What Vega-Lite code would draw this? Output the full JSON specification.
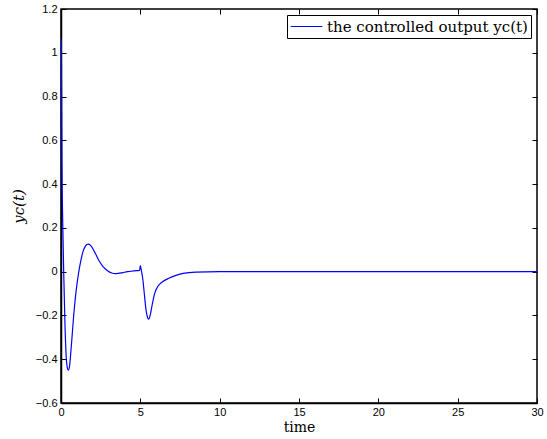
{
  "$schema": "https://vega.github.io/schema/vega-lite/v6.json",
  "autosize": {"type": "none"},
  "padding": {"left": 61, "top": 9, "right": 10, "bottom": 36},
  "width": 476,
  "height": 394,
  "background": "white",
  "config": {
    "view": {"stroke": "black", "strokeWidth": 1.5},
    "axis": {
      "domainColor": "black",
      "domainWidth": 1.5,
      "tickColor": "black",
      "tickWidth": 1,
      "labelColor": "black",
      "labelFont": "Liberation Sans",
      "labelFontSize": 11,
      "grid": false,
      "tickSize": -5,
      "titleColor": "black",
      "titleFontWeight": "normal"
    }
  },
  "data": {
    "values": [
      {"t": 0, "v": 1.0, "s": "the controlled output yc(t)"},
      {"t": 0.02, "v": 1.06, "s": "the controlled output yc(t)"},
      {"t": 0.06, "v": 0.5, "s": "the controlled output yc(t)"},
      {"t": 0.11, "v": 0.22, "s": "the controlled output yc(t)"},
      {"t": 0.17, "v": 0.0, "s": "the controlled output yc(t)"},
      {"t": 0.25, "v": -0.24, "s": "the controlled output yc(t)"},
      {"t": 0.33, "v": -0.39, "s": "the controlled output yc(t)"},
      {"t": 0.4, "v": -0.44, "s": "the controlled output yc(t)"},
      {"t": 0.46, "v": -0.45, "s": "the controlled output yc(t)"},
      {"t": 0.54, "v": -0.43, "s": "the controlled output yc(t)"},
      {"t": 0.65, "v": -0.34, "s": "the controlled output yc(t)"},
      {"t": 0.8, "v": -0.2, "s": "the controlled output yc(t)"},
      {"t": 0.95, "v": -0.09, "s": "the controlled output yc(t)"},
      {"t": 1.1, "v": -0.01, "s": "the controlled output yc(t)"},
      {"t": 1.25, "v": 0.05, "s": "the controlled output yc(t)"},
      {"t": 1.4, "v": 0.095, "s": "the controlled output yc(t)"},
      {"t": 1.55, "v": 0.118, "s": "the controlled output yc(t)"},
      {"t": 1.7, "v": 0.126, "s": "the controlled output yc(t)"},
      {"t": 1.85, "v": 0.121, "s": "the controlled output yc(t)"},
      {"t": 2.0, "v": 0.106, "s": "the controlled output yc(t)"},
      {"t": 2.2, "v": 0.078, "s": "the controlled output yc(t)"},
      {"t": 2.4, "v": 0.05, "s": "the controlled output yc(t)"},
      {"t": 2.6, "v": 0.028, "s": "the controlled output yc(t)"},
      {"t": 2.8, "v": 0.012, "s": "the controlled output yc(t)"},
      {"t": 3.0, "v": 0.001, "s": "the controlled output yc(t)"},
      {"t": 3.2, "v": -0.006, "s": "the controlled output yc(t)"},
      {"t": 3.4, "v": -0.009, "s": "the controlled output yc(t)"},
      {"t": 3.6, "v": -0.008, "s": "the controlled output yc(t)"},
      {"t": 3.9, "v": -0.004, "s": "the controlled output yc(t)"},
      {"t": 4.2, "v": 0.0, "s": "the controlled output yc(t)"},
      {"t": 4.6, "v": 0.004, "s": "the controlled output yc(t)"},
      {"t": 4.95, "v": 0.006, "s": "the controlled output yc(t)"},
      {"t": 5.0, "v": 0.028, "s": "the controlled output yc(t)"},
      {"t": 5.05, "v": 0.01, "s": "the controlled output yc(t)"},
      {"t": 5.15, "v": -0.03, "s": "the controlled output yc(t)"},
      {"t": 5.25, "v": -0.1, "s": "the controlled output yc(t)"},
      {"t": 5.35, "v": -0.17, "s": "the controlled output yc(t)"},
      {"t": 5.45, "v": -0.208, "s": "the controlled output yc(t)"},
      {"t": 5.53, "v": -0.217, "s": "the controlled output yc(t)"},
      {"t": 5.62, "v": -0.2, "s": "the controlled output yc(t)"},
      {"t": 5.75, "v": -0.15, "s": "the controlled output yc(t)"},
      {"t": 5.9, "v": -0.1, "s": "the controlled output yc(t)"},
      {"t": 6.1, "v": -0.068, "s": "the controlled output yc(t)"},
      {"t": 6.4, "v": -0.046, "s": "the controlled output yc(t)"},
      {"t": 6.8, "v": -0.03, "s": "the controlled output yc(t)"},
      {"t": 7.2, "v": -0.018, "s": "the controlled output yc(t)"},
      {"t": 7.7, "v": -0.008, "s": "the controlled output yc(t)"},
      {"t": 8.5, "v": -0.002, "s": "the controlled output yc(t)"},
      {"t": 10, "v": 0.0, "s": "the controlled output yc(t)"},
      {"t": 15, "v": 0.0, "s": "the controlled output yc(t)"},
      {"t": 20, "v": 0.0, "s": "the controlled output yc(t)"},
      {"t": 25, "v": 0.0, "s": "the controlled output yc(t)"},
      {"t": 30, "v": 0.0, "s": "the controlled output yc(t)"}
    ]
  },
  "layer": [
    {
      "mark": {"type": "line", "interpolate": "monotone", "strokeWidth": 1.2, "clip": true},
      "encoding": {
        "x": {
          "field": "t", "type": "quantitative",
          "scale": {"domain": [0, 30], "nice": false, "zero": false},
          "axis": {"orient": "bottom", "values": [0, 5, 10, 15, 20, 25, 30], "format": "~g", "title": "time",
                   "titleFont": "DejaVu Serif", "titleFontSize": 14, "titlePadding": 3, "labelPadding": 8, "labelFlush": false}
        },
        "y": {
          "field": "v", "type": "quantitative",
          "scale": {"domain": [-0.6, 1.2], "nice": false, "zero": false},
          "axis": {"orient": "left", "values": [-0.6, -0.4, -0.2, 0, 0.2, 0.4, 0.6, 0.8, 1, 1.2], "format": "~g", "title": "yc(t)",
                   "titleFont": "DejaVu Serif", "titleFontStyle": "italic", "titleFontSize": 15, "titlePadding": 9, "labelPadding": 9, "labelFlush": false}
        },
        "color": {
          "field": "s", "type": "nominal",
          "scale": {"range": ["#0000ff"]},
          "legend": {
            "orient": "top-right", "offset": 6, "title": null,
            "strokeColor": "black", "fillColor": "white", "padding": 3,
            "symbolType": "stroke", "symbolSize": 1000, "symbolStrokeWidth": 1.2,
            "clipHeight": 17,
            "labelFont": "DejaVu Serif", "labelFontSize": 15, "labelColor": "black", "labelLimit": 400, "labelOffset": 4
          }
        }
      }
    },
    {
      "mark": {"type": "line", "opacity": 0},
      "encoding": {
        "x": {
          "field": "t", "type": "quantitative",
          "scale": {"domain": [0, 30], "nice": false, "zero": false},
          "axis": {"orient": "top", "values": [0, 5, 10, 15, 20, 25, 30], "labels": false, "title": null, "domain": false}
        },
        "y": {
          "field": "v", "type": "quantitative",
          "scale": {"domain": [-0.6, 1.2], "nice": false, "zero": false},
          "axis": {"orient": "right", "values": [-0.6, -0.4, -0.2, 0, 0.2, 0.4, 0.6, 0.8, 1, 1.2], "labels": false, "title": null, "domain": false}
        }
      }
    }
  ],
  "resolve": {"scale": {"x": "independent", "y": "independent"}}
}
